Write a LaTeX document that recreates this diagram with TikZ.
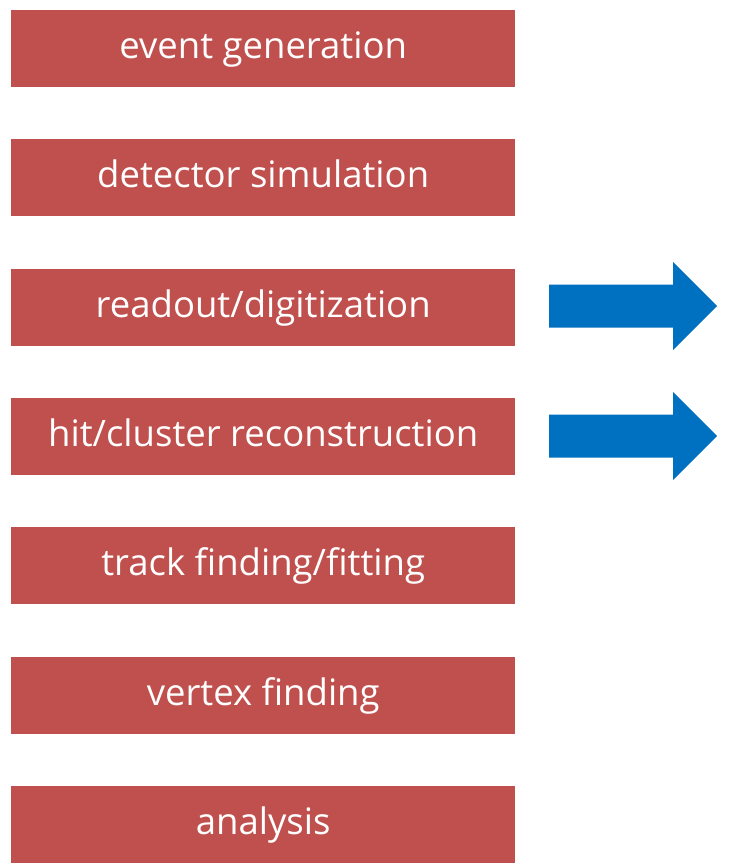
\documentclass[tikz,border=0pt]{standalone}
\usepackage{fontspec}
\setmainfont{Open Sans}
\definecolor{boxred}{HTML}{C0504D}
\definecolor{arrowblue}{HTML}{0070C0}
\begin{document}
\begin{tikzpicture}[x=1pt,y=-1pt,
  stagebox/.style={fill=boxred, draw=none, minimum width=504pt, inner sep=0pt, text height=48.5pt, text depth=28.5pt, text=white, font=\fontsize{36.5}{42}\selectfont, anchor=north west},
  bigarrow/.style={fill=arrowblue, draw=none}]
\useasboundingbox (0,0) rectangle (730,865);
\node[stagebox] (b1) at (11,10) {event generation};
\node[stagebox] (b2) at (11,139) {detector simulation};
\node[stagebox] (b3) at (11,269) {readout/digitization};
\node[stagebox] (b4) at (11,398) {hit/cluster reconstruction};
\node[stagebox] (b5) at (11,527) {track finding/fitting};
\node[stagebox] (b6) at (11,657) {vertex finding};
\node[stagebox] (b7) at (11,786) {analysis};
\foreach \c in {306,436} {
  \fill[bigarrow] (549,\c-21.5) -- (673,\c-21.5) -- (673,\c-44) -- (717,\c) -- (673,\c+44) -- (673,\c+21.5) -- (549,\c+21.5) -- cycle;
}
\end{tikzpicture}
\end{document}
